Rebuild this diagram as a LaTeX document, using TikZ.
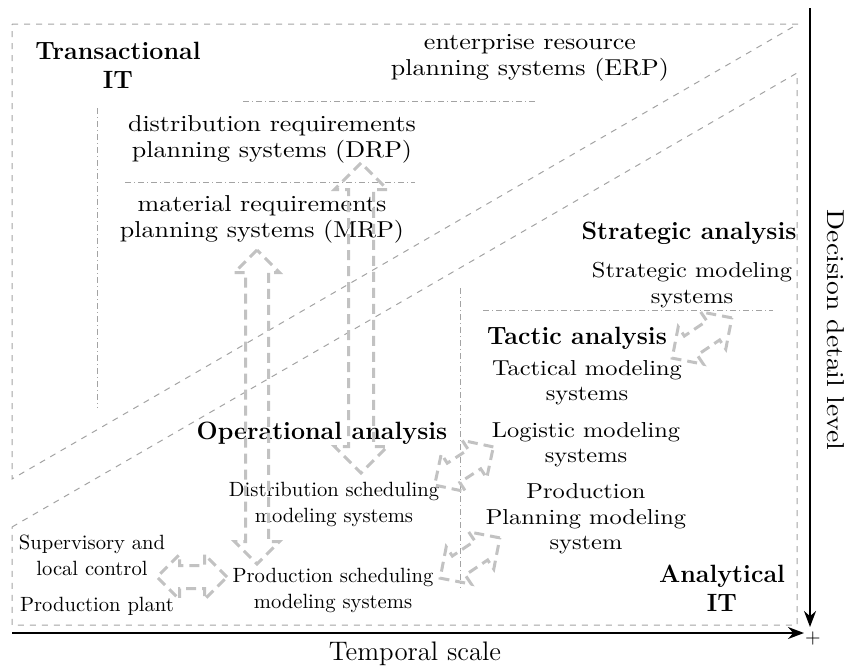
\documentclass[tikz,border=0pt]{standalone}
\usepackage{fontspec}
\newfontfamily\widerm{lmroman10-regular.otf}[FakeStretch=1.13]
\usetikzlibrary{arrows.meta,shapes.arrows}
\definecolor{zonegray}{gray}{0.64}
\definecolor{flowgray}{gray}{0.76}

\begin{document}
\begin{tikzpicture}[
x=0.5pt, y=-0.5pt,
    zone/.style = {draw=zonegray, dashed, line width=0.5pt},% frames of the two IT zones
   split/.style = {draw=zonegray, dash pattern=on 3pt off 1.5pt on 0.5pt off 1.5pt,
                   line width=0.4pt},
    axis/.style = {line width=1pt, -{Stealth[length=8pt,width=6pt]}},
    body/.style = {font=\widerm\fontsize{11.5}{13}\selectfont, align=center, inner sep=0pt},
   small/.style = {font=\widerm\fontsize{10.8}{12.7}\selectfont, align=center, inner sep=0pt},
    head/.style = {font=\fontsize{12.5}{14.5}\selectfont\bfseries, align=center, inner sep=0pt},
  narrow/.style = {font=\fontsize{10.3}{13}\selectfont, align=center, inner sep=0pt},
    flow/.style = {double arrow, draw=flowgray, dash pattern=on 5pt off 3pt,
                   line width=1.5pt, inner xsep=0pt, inner ysep=5pt, minimum width=21pt,
                   double arrow head extend=5.5pt},% shaft 10pt, head 21pt
                        ]
\useasboundingbox (0,0) rectangle (851,669);
% zones
\draw[zone] (12,24) -- (798,24) -- (12,479) -- cycle;
\draw[zone] (12,527) -- (797,73) -- (797,625) -- (12,625) -- cycle;
\draw[split] (97,108) -- (97,408);
\draw[split] (243,101) -- (535,101);
\draw[split] (125,182) -- (415,182);
\draw[split] (460,288) -- (460,588);
\draw[split] (483,310) -- (773,310);
% axes
\coordinate (origin) at (12,633);
\coordinate (tend) at (804,633);
\coordinate (dtop) at (810,8);
\coordinate (dend) at (810,627);
\draw[axis] (origin) -- (tend);
\draw[axis] (dtop) -- (dend);
\node[font=\fontsize{10}{12}\selectfont, inner sep=0pt] (plus) at (813,638) {+};
\node[font=\fontsize{13.4}{15}\selectfont, inner sep=0pt] (tscale) at (415,654) {Temporal scale};
\node[font=\widerm\fontsize{12.2}{14}\selectfont, inner sep=0pt, rotate=-90] (dlevel)
     at (836,330) {Decision detail level};
% transactional IT
\node[head] (trans) at (118,65) {Transactional\\IT};
\node[body] (erp) at (530,58) {enterprise resource\\planning systems (ERP)};
\node[body] (drp) at (272,139) {distribution requirements\\planning systems (DRP)};
\node[body] (mrp) at (262,219) {material requirements\\planning systems (MRP)};
% analytical IT
\node[head] (strat) at (689,233) {Strategic analysis};
\node[small] (stratsys) at (692,285) {Strategic modeling\\systems};
\node[head] (tactic) at (577,338) {Tactic analysis};
\node[small] (tactsys) at (587,383) {Tactical modeling\\systems};
\node[small] (logsys) at (586,445) {Logistic modeling\\systems};
\node[small] (prodplan) at (586,519) {Production\\Planning modeling\\system};
\node[head] (analyt) at (722,588) {Analytical\\IT};
\node[head] (oper) at (322,433) {Operational analysis};
\node[narrow] (distsched) at (334,504) {Distribution scheduling\\modeling systems};
\node[narrow] (prodsched) at (333,590) {Production scheduling\\modeling systems};
\node[narrow] (superv) at (92,555) {Supervisory and\\local control};
\node[narrow] (plant) at (97,606) {Production plant};
% exchanges
\node[flow, minimum height=157pt, rotate=90] (f1) at (257,407) {};
\node[flow, minimum height=155pt, inner ysep=5.5pt, minimum width=25pt,
      double arrow head extend=7pt, rotate=90] (f2) at (361,318) {};
\node[flow, minimum height=35pt] (f3) at (192,577) {};
\node[flow, minimum height=36pt, rotate=34] (f4) at (702,338) {};
\node[flow, minimum height=35pt, rotate=33] (f5) at (464,466) {};
\node[flow, minimum height=36pt, rotate=34] (f6) at (470,558) {};
\end{tikzpicture}
\end{document}
